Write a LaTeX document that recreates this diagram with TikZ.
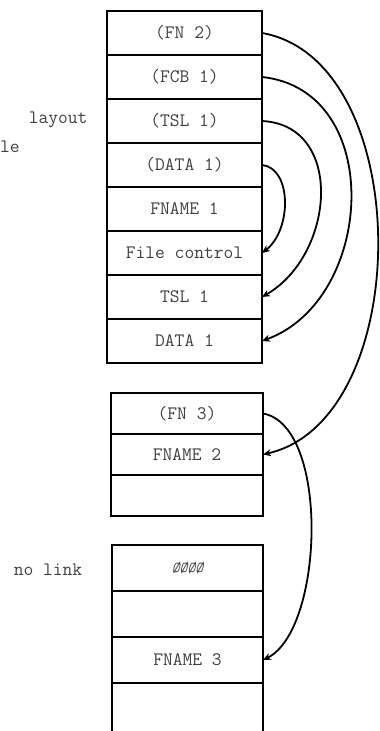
\documentclass[tikz,border=0pt]{standalone}
\usetikzlibrary{positioning,arrows.meta}

\begin{document}
\begin{tikzpicture}
  [x=1pt,y=1pt,
  txt/.style={font=\ttfamily\fontsize{19}{22}\selectfont,text=black!75},
  cell/.style={draw,line width=2.2pt,outer sep=0pt,inner sep=0pt,
    minimum width=155pt,minimum height=44pt,txt},
  cellb/.style={cell,minimum width=152pt,minimum height=41pt},
  cellc/.style={cell,minimum width=151pt,minimum height=46pt},
  link/.style={line width=1.8pt,-{Stealth[length=8pt,width=7pt]}}]

  \clip (0,0) rectangle (380,731);

  \node[cell] (fn2) at (184.5,698) {(FN 2)};
  \node[cell,below=0pt of fn2] (fcb1) {(FCB 1)};
  \node[cell,below=0pt of fcb1] (tslp1) {(TSL 1)};
  \node[cell,below=0pt of tslp1] (datap1) {(DATA 1)};
  \node[cell,below=0pt of datap1] (fname1) {FNAME 1};
  \node[cell,below=0pt of fname1] (fctrl) {File control};
  \node[cell,below=0pt of fctrl] (tsl1) {TSL 1};
  \node[cell,below=0pt of tsl1] (data1) {DATA 1};

  \node[cellb] (fn3) at (187,317.5) {(FN 3)};
  \node[cellb,below=0pt of fn3] (fname2) {FNAME 2};
  \node[cellb,below=0pt of fname2] (blank2) {};

  \node[cellc] (nolnk) at (187.5,163) {\itshape\fontsize{15}{17}\selectfont ØØØØ};
  \node[cellc,below=0pt of nolnk] (blank3a) {};
  \node[cellc,below=0pt of blank3a] (fname3) {FNAME 3};
  \node[cellc,below=0pt of fname3,minimum height=70pt] (blank3b) {};

  \node[txt,anchor=east] (layout) at (91,611) {layout};
  \node[txt,anchor=west,inner sep=0pt] (le) at (0,584) {le};
  \node[txt] (nolink) at (48,161) {no link};

  \draw[link] (fn2.east) .. controls +(154,-27) and +(153,35) .. (fname2.east);
  \draw[link] (fcb1.east) .. controls +(124,-13) and +(113,41) .. (data1.east);
  \draw[link] (tslp1.east) .. controls +(83,-4) and +(73,42) .. (tsl1.east);
  \draw[link] (datap1.east) .. controls +(30,-3) and +(30,23) .. (fctrl.east);
  \draw[link] (fn3.east) .. controls +(67,-12) and +(61,30) .. (fname3.east);

\end{tikzpicture}
\end{document}
